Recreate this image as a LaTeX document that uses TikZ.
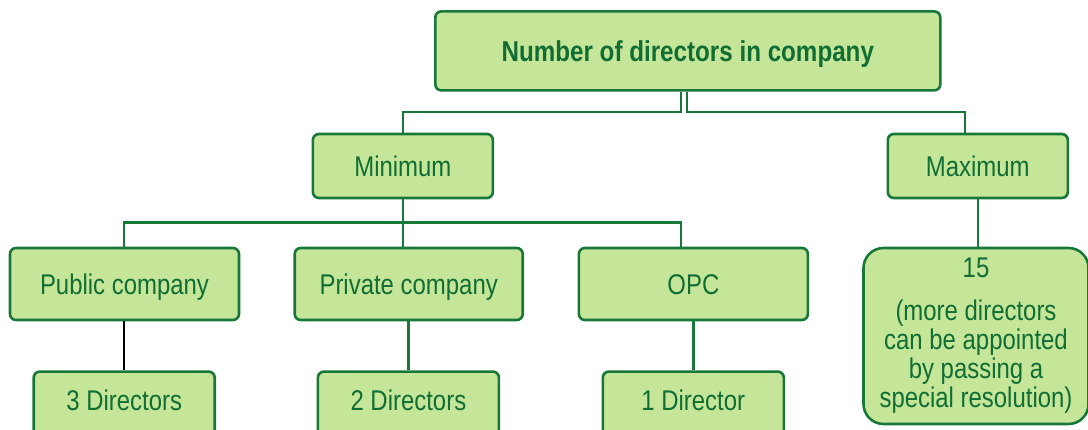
\documentclass[tikz,border=0pt]{standalone}
\usepackage{fontspec}
\newfontfamily\nar{Liberation Sans}[FakeStretch=0.84]
\definecolor{lg}{RGB}{197,230,152}
\definecolor{dg}{RGB}{24,120,58}
\definecolor{tg}{RGB}{16,110,52}
\begin{document}
\begin{tikzpicture}[x=1pt,y=-1pt,
  box/.style={draw=dg, fill=lg, line width=2.6pt, rounded corners=6pt, text=tg,
    font={\nar\fontsize{28.5}{29}\selectfont}, inner sep=0pt,
    text height=20.4pt, text depth=0pt},
  lowbox/.style={box, anchor=north, text height=39pt, text depth=40pt,
    minimum height=0pt},
  conn/.style={draw=dg, line width=2.4pt},
  blk/.style={draw=black, line width=2.4pt}]
\useasboundingbox (0,0) rectangle (1088,430);
\fill[white] (0,0) rectangle (1088,430);
% nodes
\node[box, font={\nar\bfseries\fontsize{28.8}{29}\selectfont},
  minimum width=505pt, minimum height=79pt] (top) at (687.8,50.9) {Number of directors in company};
\node[box, minimum width=180pt, minimum height=64pt] (mn) at (402.9,166) {Minimum};
\node[box, minimum width=180pt, minimum height=64pt] (mx) at (977.8,166) {Maximum};
\node[box, minimum width=229pt, minimum height=72pt] (pu) at (124.5,284) {Public company};
\node[box, minimum width=228pt, minimum height=72pt] (pr) at (408.7,284) {Private company};
\node[box, minimum width=229pt, minimum height=72pt] (opc) at (693.4,284) {OPC};
\node[lowbox, minimum width=181pt] (d3) at (124.2,370.3) {3 Directors};
\node[lowbox, minimum width=181pt] (d2) at (408.4,370.3) {2 Directors};
\node[lowbox, minimum width=181pt] (d1) at (693.3,370.3) {1 Director};
\node[box, rounded corners=20pt, minimum width=225pt, minimum height=176pt,
  align=center, text height=, text depth=] (fif) at (976,336)
  {15\\[14pt](more directors\\can be appointed\\by passing a\\special resolution)};
% junction coordinates
\coordinate (jL) at (681,112);
\coordinate (jR) at (687,112);
\coordinate (mxin) at (965,0);
\coordinate (jm) at (402.9,222.7);
\coordinate (puin) at (124,0);
\coordinate (opin) at (681,0);
% connectors
\draw[conn] (top.south -| jL) -- (jL) -| (mn.north);
\draw[conn] (top.south -| jR) -- (jR) -| (mx.north -| mxin);
\draw[conn] (mn.south) -- (mn.south |- pr.north);
\draw[conn] (pu.north -| puin) |- (jm) -| (opc.north -| opin);
\draw[blk] (pu.south -| d3.north) -- (d3.north);
\draw[conn] (pr.south -| d2.north) -- (d2.north);
\draw[conn] (opc.south -| d1.north) -- (d1.north);
\draw[conn] (mx.south) -- (mx.south |- fif.north);
\end{tikzpicture}
\end{document}
